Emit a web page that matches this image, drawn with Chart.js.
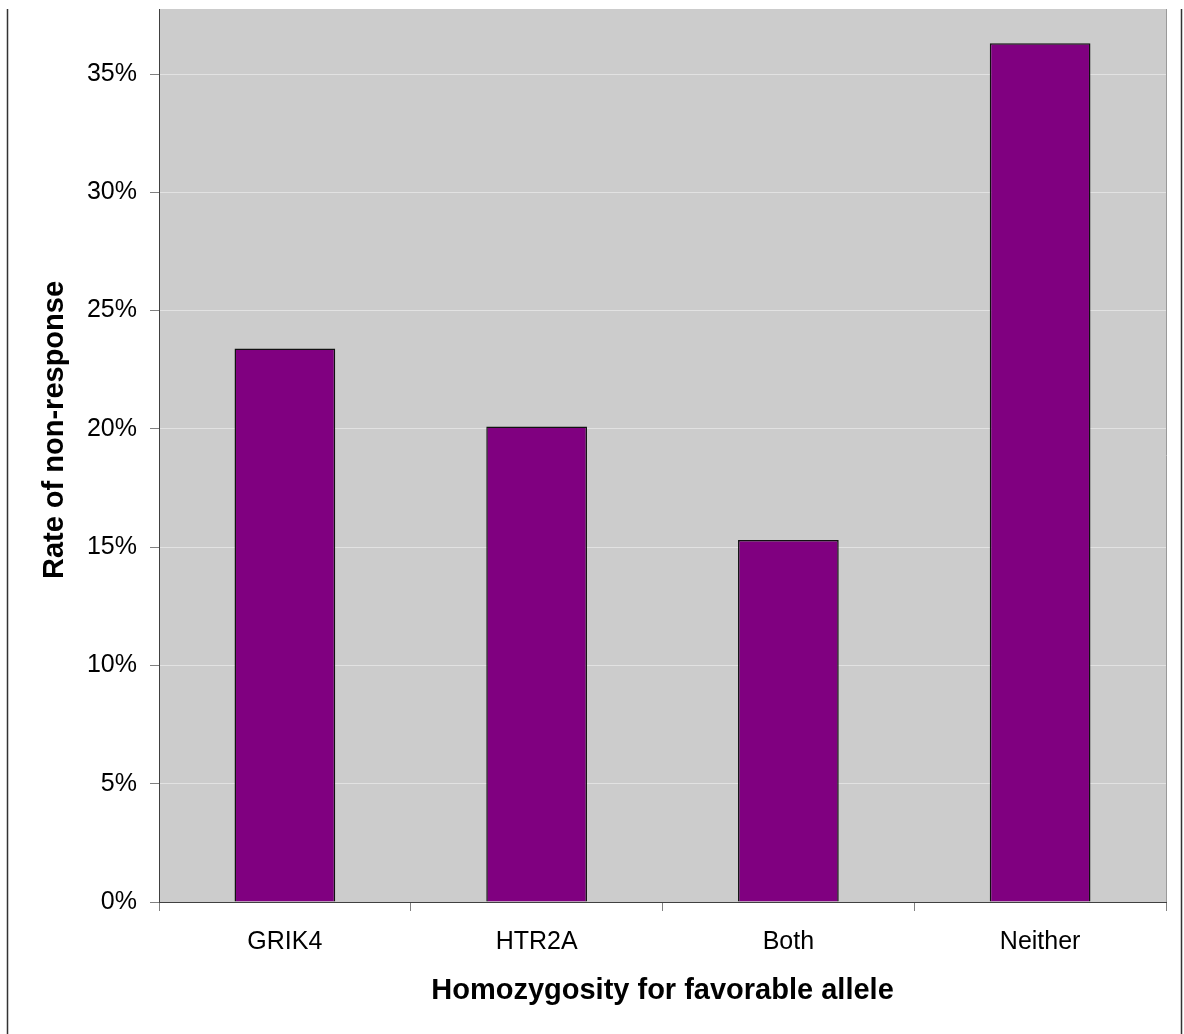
<!DOCTYPE html>
<html>
<head>
<meta charset="utf-8">
<script src="https://cdn.jsdelivr.net/npm/chart.js@4/dist/chart.umd.min.js"></script>
<style>
  html, body { margin: 0; padding: 0; background: #ffffff; }
  #wrap { width: 1184px; height: 1034px; position: relative; }
  canvas { display: block; }
</style>
</head>
<body>
<div id="wrap"><canvas id="chart" width="1184" height="1034"></canvas></div>
<script>
// Non-response rate by homozygosity for the favourable allele
const categories = ['GRIK4', 'HTR2A', 'Both', 'Neither'];
const nonResponseRates = [23.4, 20.1, 15.3, 36.3];
const yTickValues = [0, 5, 10, 15, 20, 25, 30, 35];
const yAxisTitle = 'Rate of non-response';
const xAxisTitle = 'Homozygosity for favorable allele';

const FONT = '"Liberation Sans", Arial, Helvetica, sans-serif';

// Grey plot background, right edge of the plot frame, outer frame lines and axis titles
const decorations = {
  id: 'decorations',
  beforeDraw(chart) {
    const { ctx, chartArea: a } = chart;
    ctx.save();
    ctx.fillStyle = '#cccccc';
    ctx.fillRect(a.left, a.top, a.right - a.left, a.bottom - a.top);
    ctx.restore();
  },
  afterDraw(chart) {
    const { ctx, chartArea: a, width, height } = chart;
    ctx.save();
    // right edge of plot area
    ctx.strokeStyle = '#9a9a9a';
    ctx.lineWidth = 1;
    ctx.beginPath();
    ctx.moveTo(a.right + 0.5, a.top);
    ctx.lineTo(a.right + 0.5, a.bottom);
    ctx.stroke();
    // outer frame lines
    ctx.strokeStyle = '#333333';
    ctx.lineWidth = 1.5;
    ctx.beginPath();
    ctx.moveTo(7.5, a.top);
    ctx.lineTo(7.5, height);
    ctx.moveTo(width - 2.5, a.top);
    ctx.lineTo(width - 2.5, height);
    ctx.stroke();
    // axis titles
    ctx.fillStyle = '#000000';
    ctx.font = 'bold 29px ' + FONT;
    ctx.textAlign = 'center';
    ctx.textBaseline = 'alphabetic';
    ctx.fillText(xAxisTitle, (a.left + a.right) / 2, 999);
    ctx.translate(63, 430);
    ctx.rotate(-Math.PI / 2);
    ctx.fillText(yAxisTitle, 0, 0);
    ctx.restore();
  }
};

new Chart(document.getElementById('chart'), {
  type: 'bar',
  data: {
    labels: categories,
    datasets: [{
      data: nonResponseRates,
      backgroundColor: '#800080',
      borderColor: '#111111',
      borderWidth: 1.5,
      borderSkipped: 'bottom',
      barPercentage: 0.4,
      categoryPercentage: 1.0
    }]
  },
  options: {
    responsive: false,
    animation: false,
    events: [],
    layout: { padding: { top: 9, right: 18, left: 0, bottom: 0 } },
    plugins: {
      legend: { display: false },
      tooltip: { enabled: false }
    },
    scales: {
      x: {
        offset: true,
        afterFit(scale) {
          scale.height = 132;
          scale.paddingLeft = 0;
          scale.paddingRight = 0;
        },
        grid: {
          offset: true,
          drawOnChartArea: false,
          tickLength: 9,
          tickColor: '#808080',
          lineWidth: 1
        },
        border: { color: '#404040', width: 1 },
        ticks: {
          color: '#000000',
          padding: 16,
          font: { family: FONT, size: 25 }
        }
      },
      y: {
        min: 0,
        max: 37.75,
        afterFit(scale) {
          scale.width = 159;
          scale.paddingTop = 0;
          scale.paddingBottom = 0;
        },
        afterBuildTicks(scale) {
          scale.ticks = yTickValues.map(v => ({ value: v }));
        },
        grid: {
          color: '#e2e2e2',
          tickColor: '#808080',
          tickLength: 9,
          lineWidth: 1
        },
        border: { color: '#404040', width: 1 },
        ticks: {
          color: '#000000',
          padding: 13,
          font: { family: FONT, size: 25 },
          callback: v => v + '%'
        }
      }
    }
  },
  plugins: [decorations]
});
</script>
</body>
</html>
